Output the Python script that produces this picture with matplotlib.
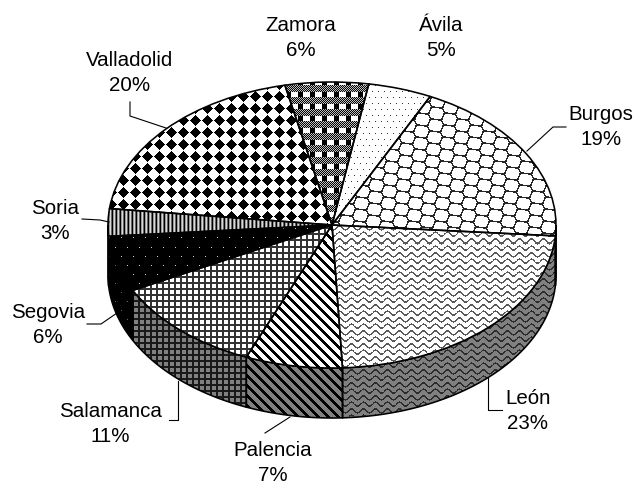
import matplotlib
matplotlib.use('Agg')
import matplotlib.pyplot as plt
from matplotlib.patches import Polygon
from matplotlib.transforms import Affine2D
import numpy as np

provinces = ['Burgos', 'León', 'Palencia', 'Salamanca', 'Segovia', 'Soria', 'Valladolid', 'Zamora', 'Ávila']
# the chart prints them rounded
shares = [19, 23.05, 7, 11.2, 6.3, 3.1, 19.8, 6, 4.6]

# label centre and leader line, in image pixels
label_pos = [(601, 127), (528, 411), (273, 463), (110, 424), (48, 325), (55, 221), (130, 73), (301, 38), (441, 38)]
leaders = [
    [(527, 151), (553, 127), (566, 127)],
    [(488, 378), (488, 410), (502, 410)],
    [(290, 417), (265, 433)],
    [(178, 381), (178, 420), (169, 420)],
    [(117, 313), (101, 324), (87, 324)],
    [(109, 222), (100, 220), (82, 219)],
    [(166, 128), (130, 116), (130, 102)],
    None,
    None,
]

W, H = 636, 486
cx, cy, rx, ry, depth = 332, H - 225, 224, 143, 50

y, x = np.mgrid[0:H, 0:W]


def diamonds():
    return np.where(np.abs((x + 3) % 12 - 6) + np.abs((y + 5) % 12 - 6) <= 5.5, 0.0, 1.0)


def bars_band():
    img = np.ones((H, W))
    img[np.abs((x + 6) % 12 - 6) <= 2] = 0
    band = np.abs((y + 1) % 12 - 6) <= 3
    img[band] = ((x[band] + y[band]) % 2) * 0.75
    return img


def scales():
    # edges between the cells of a slanted lattice
    ax_, ay_, bx_, by_ = 13.0, 6.0, -1.0, 12.0
    det = ax_ * by_ - ay_ * bx_
    u = (x * by_ - y * bx_) / det
    v = (y * ax_ - x * ay_) / det
    fu, fv = u - np.floor(u), v - np.floor(v)
    dist = []
    for i in (-1, 0, 1, 2):
        for j in (-1, 0, 1, 2):
            dx = (fu - i) * ax_ + (fv - j) * bx_
            dy = (fu - i) * ay_ + (fv - j) * by_
            dist.append(np.hypot(dx, dy))
    dist = np.sort(np.array(dist), axis=0)
    return np.where(dist[1] - dist[0] < 1.5, 0.15, 1.0)


def waves():
    d = (y + 2 * np.sin(2 * np.pi * x / 12)) % 6.5
    return np.where(d < 1.7, 0.35, 1.0)


def stripes():
    return np.where((x - y) % 10 < 3.6, 0.0, 1.0)


def grid():
    return np.where((x % 6 < 2) | (y % 6 < 2), 0.2, 1.0)


def dark_dots():
    img = np.zeros((H, W))
    img[(x % 12 == 1) & (y % 18 == 4)] = 0.8
    img[(x % 12 == 7) & (y % 18 == 13)] = 0.8
    return img


def vbars():
    return np.array([0.0, 0.6, 0.85, 0.4])[x % 4]


def dots():
    img = np.ones((H, W))
    img[(x % 6 == 3) & (y % 12 == 2)] = 0.2
    img[(x % 6 == 0) & (y % 12 == 8)] = 0.2
    return img


tiles = [scales(), waves(), stripes(), grid(), dark_dots(), vbars(), diamonds(), bars_band(), dots()]

plt.rcParams['font.family'] = ['Liberation Sans', 'DejaVu Sans']
fig = plt.figure(figsize=(W / 100, H / 100), dpi=100)
ax = fig.add_axes([0, 0, 1, 1])

wedges, _ = ax.pie(shares, startangle=64, counterclock=False, radius=rx, center=(cx, cy),
                   colors=['none'] * len(shares), wedgeprops=dict(ec='black', lw=1.15))
squash = Affine2D().translate(-cx, -cy).scale(1, ry / rx).translate(cx, cy) + ax.transData


def fill(patch, img, z):
    im = ax.imshow(img, cmap='gray', vmin=0, vmax=1, extent=(0, W, 0, H), origin='upper',
                   interpolation='nearest', aspect='auto', zorder=z)
    im.set_clip_path(patch)


for w, tile in zip(wedges, tiles):
    w.set_transform(squash)
    w.set_zorder(5)
    fill(w, tile, 4)
    # side wall, only the front half of the rim shows
    t1, t2 = max(w.theta1, -180), min(w.theta2, 0)
    if t2 > t1:
        t = np.radians(np.linspace(t1, t2, 60))
        xs = cx + rx * np.cos(t)
        ys = cy + ry * np.sin(t)
        pts = np.r_[np.c_[xs, ys], np.c_[xs, ys - depth][::-1]]
        wall = Polygon(pts, closed=True, fc='none', ec='black', lw=1.15, zorder=3)
        ax.add_patch(wall)
        fill(wall, tile * 0.5, 2)

for name, share, (lx, ly), line in zip(provinces, shares, label_pos, leaders):
    ax.text(lx, H - ly, '%s\n%d%%' % (name, round(share)), ha='center', va='center', fontsize=14.8,
            linespacing=1.45, color='black', zorder=7)
    if line:
        ax.plot([p[0] for p in line], [H - p[1] for p in line], color='black', lw=0.8, zorder=6)

ax.set_xlim(0, W)
ax.set_ylim(0, H)
ax.set_aspect('auto')
ax.axis('off')
fig.savefig('out.png', dpi=100)
